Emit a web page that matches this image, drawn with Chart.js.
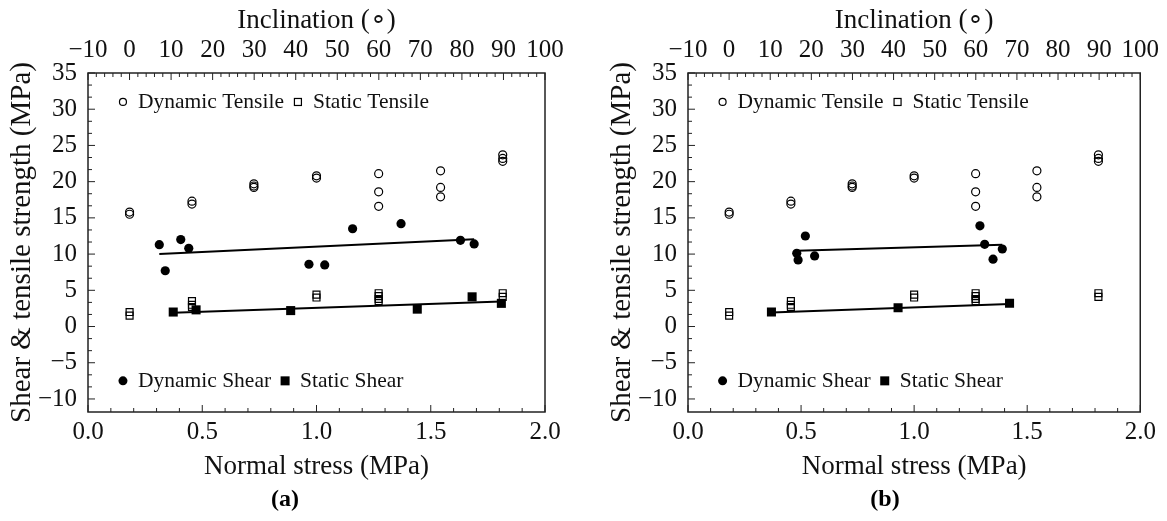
<!DOCTYPE html>
<html>
<head>
<meta charset="utf-8">
<script src="https://cdn.jsdelivr.net/npm/chart.js@4/dist/chart.umd.min.js"></script>
<style>
  html, body { margin: 0; padding: 0; background: #fff; }
  #wrap { position: relative; width: 1167px; height: 521px; }
  .panel { position: absolute; top: 0; height: 521px; }
</style>
</head>
<body>
<div id="wrap">
  <div class="panel" style="left:0;width:580px"><canvas id="ca" width="580" height="521"></canvas></div>
  <div class="panel" style="left:580px;width:587px"><canvas id="cb" width="587" height="521"></canvas></div>
</div>
<script>
// ---------- data ----------
const inclinationTicks = [-10, 0, 10, 20, 30, 40, 50, 60, 70, 80, 90, 100];
const strengthTicks = [-10, -5, 0, 5, 10, 15, 20, 25, 30, 35];
const normalStressTicks = [0, 0.5, 1.0, 1.5, 2.0];
const normalStress = [0.182, 0.455, 0.726, 1.0, 1.272, 1.543, 1.815];
// open circles (same in both panels)
const dynamicTensile = [[15.8, 15.5], [17.3, 16.9], [19.7, 19.4, 19.2], [20.8, 20.5], [21.1, 18.6, 16.6], [21.5, 19.2, 17.9], [23.7, 23.2, 22.8]];
// open squares (same in both panels)
const staticTensile = [[2.0, 1.5], [3.5, 3.0, 2.7], [], [4.4, 4.0], [4.6, 4.2, 3.8, 3.5], [], [4.6, 4.1]];

// panel (a)
const dynShearAx = [0.312, 0.338, 0.406, 0.441, 0.967, 1.036, 1.158, 1.370, 1.630, 1.690];
const dynShearAy = [11.3, 7.7, 12.0, 10.8, 8.6, 8.5, 13.5, 14.2, 11.9, 11.4];
const staShearAx = [0.373, 0.473, 0.887, 1.441, 1.681, 1.809];
const staShearAy = [2.0, 2.3, 2.2, 2.4, 4.1, 3.2];
const dynFitAx = [0.312, 1.690];
const dynFitAy = [10.0, 12.05];
const staFitAx = [0.373, 1.809];
const staFitAy = [1.9, 3.45];

// panel (b)
const dynShearBx = [0.481, 0.487, 0.519, 0.560, 1.291, 1.312, 1.349, 1.390];
const dynShearBy = [10.1, 9.2, 12.5, 9.75, 13.9, 11.35, 9.3, 10.7];
const staShearBx = [0.369, 0.929, 1.422];
const staShearBy = [2.0, 2.6, 3.2];
const dynFitBx = [0.481, 1.390];
const dynFitBy = [10.45, 11.3];
const staFitBx = [0.369, 1.422];
const staFitBy = [1.95, 3.1];

// ---------- helpers ----------
const FONT = '"Liberation Serif", "Times New Roman", serif';
const zip = (xs, ys) => xs.map((x, i) => ({ x, y: ys[i] }));
const groupPts = (levels, groups) => {
  const out = [];
  groups.forEach((g, i) => g.forEach(v => out.push({ x: levels[i], y: v })));
  return out;
};
const minus = s => String(s).replace('-', '\u2212');

function drawMarker(ctx, type, x, y) {
  ctx.save();
  ctx.strokeStyle = '#000'; ctx.fillStyle = '#000'; ctx.lineWidth = 1.2;
  if (type === 'oc') { ctx.beginPath(); ctx.arc(x, y, 3.5, 0, Math.PI * 2); ctx.stroke(); }
  if (type === 'fc') { ctx.beginPath(); ctx.arc(x, y, 4.5, 0, Math.PI * 2); ctx.fill(); }
  if (type === 'os') { ctx.strokeRect(x - 3.5, y - 3.5, 7, 7); }
  if (type === 'fs') { ctx.fillRect(x - 4.5, y - 4.5, 9, 9); }
  ctx.restore();
}

const framePlugin = {
  id: 'frame',
  afterDatasetsDraw(chart, args, opts) {
    const { ctx, chartArea: a, scales } = chart;
    const { x, y, x2 } = scales;
    ctx.save();
    ctx.strokeStyle = '#222';
    ctx.lineWidth = 1;
    ctx.beginPath();
    for (let v = -10; v <= 35 + 1e-9; v += 5 / 3) {
      const py = y.getPixelForValue(v);
      const major = Math.abs(v / 5 - Math.round(v / 5)) < 1e-6;
      ctx.moveTo(a.left, py); ctx.lineTo(a.left + (major ? 7 : 4), py);
    }
    for (let i = 0; i <= 20; i++) {
      const px = x.getPixelForValue(i / 10);
      const major = i % 5 === 0;
      ctx.moveTo(px, a.bottom); ctx.lineTo(px, a.bottom - (major ? 7 : 4));
    }
    for (let v = -10; v <= 100; v += 2) {
      const px = x2.getPixelForValue(v);
      const major = v % 10 === 0;
      ctx.moveTo(px, a.top); ctx.lineTo(px, a.top + (major ? 7 : 4));
    }
    ctx.stroke();
    ctx.lineWidth = 1.5;
    ctx.strokeRect(a.left, a.top, a.right - a.left, a.bottom - a.top);

    ctx.fillStyle = '#111';
    ctx.font = '21.5px ' + FONT;
    ctx.textBaseline = 'alphabetic';
    const rows = [
      { yv: 31.0, items: [['oc', 'Dynamic Tensile'], ['os', 'Static Tensile']] },
      { yv: -7.5, items: [['fc', 'Dynamic Shear'], ['fs', 'Static Shear']] }
    ];
    rows.forEach(r => {
      let px = x.getPixelForValue(0.153);
      const py = y.getPixelForValue(r.yv);
      r.items.forEach(([m, t]) => {
        drawMarker(ctx, m, px, py);
        px += 15;
        ctx.fillText(t, px, py + 6);
        px += ctx.measureText(t).width + 14;
      });
    });

    ctx.font = 'bold 24px ' + FONT;
    ctx.textAlign = 'center';
    ctx.textBaseline = 'middle';
    ctx.fillStyle = '#000';
    ctx.fillText(opts.label, a.left + 197, 500);
    ctx.restore();
  }
};

const tickFont = { family: FONT, size: 25 };
function makeChart(id, label, padLeft, padRight, sx, sy, tx, ty, fsx, fsy, ftx, fty) {
  const ds = [
    { label: 'Dynamic Tensile', data: groupPts(normalStress, dynamicTensile), pointStyle: 'circle', pointRadius: 4, borderColor: '#000', backgroundColor: 'rgba(0,0,0,0)', borderWidth: 1.2 },
    { label: 'Static Tensile', data: groupPts(normalStress, staticTensile), pointStyle: 'rect', pointRadius: 4.9, borderColor: '#000', backgroundColor: 'rgba(0,0,0,0)', borderWidth: 1.2 },
    { label: 'Dynamic Shear', data: zip(sx, sy), pointStyle: 'circle', pointRadius: 4.6, borderColor: '#000', backgroundColor: '#000', borderWidth: 0 },
    { label: 'Static Shear', data: zip(tx, ty), pointStyle: 'rect', pointRadius: 6.4, borderColor: '#000', backgroundColor: '#000', borderWidth: 0 },
    { type: 'line', label: 'Dynamic Shear fit', data: zip(fsx, fsy), showLine: true, pointRadius: 0, borderColor: '#000', borderWidth: 2, fill: false },
    { type: 'line', label: 'Static Shear fit', data: zip(ftx, fty), showLine: true, pointRadius: 0, borderColor: '#000', borderWidth: 2, fill: false }
  ];
  const tickCommon = { color: '#111', font: tickFont, autoSkip: false, maxRotation: 0, minRotation: 0 };
  return new Chart(document.getElementById(id), {
    type: 'scatter',
    data: { datasets: ds },
    plugins: [framePlugin],
    options: {
      responsive: false,
      animation: false,
      layout: { padding: { left: padLeft, right: padRight, top: 5, bottom: 38 } },
      plugins: { legend: { display: false }, tooltip: { enabled: false }, frame: { label } },
      scales: {
        x: {
          type: 'linear', position: 'bottom', min: 0, max: 2,
          grid: { display: false, drawTicks: false }, border: { display: false },
          afterBuildTicks: s => { s.ticks = normalStressTicks.map(v => ({ value: v })); },
          ticks: Object.assign({ padding: 5, callback: v => Number(v).toFixed(1) }, tickCommon),
          title: { display: true, text: 'Normal stress (MPa)', color: '#111', padding: 0, font: { family: FONT, size: 27 } },
          afterFit: s => { s.height = 71; }
        },
        x2: {
          type: 'linear', position: 'top', min: -10, max: 100,
          grid: { display: false, drawTicks: false }, border: { display: false },
          afterBuildTicks: s => { s.ticks = inclinationTicks.map(v => ({ value: v })); },
          ticks: Object.assign({ padding: 8, callback: v => minus(v) }, tickCommon),
          title: { display: true, text: 'Inclination (\u2218)', color: '#111', padding: 0, font: { family: FONT, size: 27 } },
          afterFit: s => { s.height = 68; }
        },
        y: {
          type: 'linear', position: 'left', min: -11.8, max: 35,
          grid: { display: false, drawTicks: false }, border: { display: false },
          afterBuildTicks: s => { s.ticks = strengthTicks.map(v => ({ value: v })); },
          ticks: Object.assign({ padding: 11, callback: v => minus(v) }, tickCommon),
          title: { display: true, text: 'Shear & tensile strength (MPa)', color: '#111', padding: 0, font: { family: FONT, size: 29 } },
          afterFit: s => { s.width = 83; }
        }
      }
    }
  });
}

makeChart('ca', '(a)', 5, 35, dynShearAx, dynShearAy, staShearAx, staShearAy, dynFitAx, dynFitAy, staFitAx, staFitAy);
makeChart('cb', '(b)', 25, 22, dynShearBx, dynShearBy, staShearBx, staShearBy, dynFitBx, dynFitBy, staFitBx, staFitBy);
</script>
</body>
</html>
